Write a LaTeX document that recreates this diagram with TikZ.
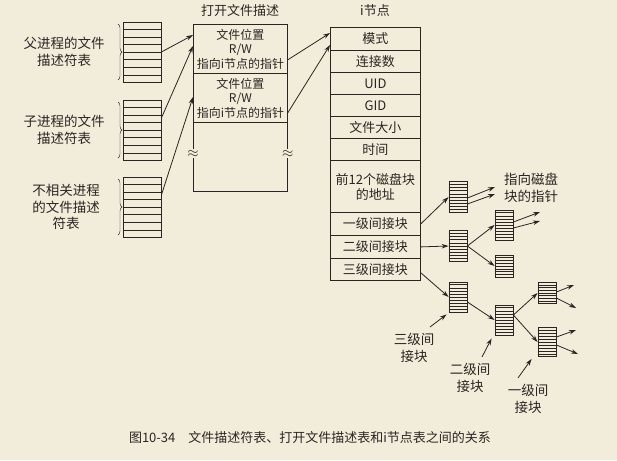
\documentclass[tikz,border=0pt]{standalone}
\usepackage{fontspec}
\setmainfont{Noto Sans CJK SC}
\usetikzlibrary{arrows.meta,calc,decorations.pathreplacing}
\definecolor{bg}{HTML}{F2EDDA}
\definecolor{ink}{HTML}{2A2522}
\newcommand{\stk}[6]{% name, cx, cy, w, h, n
  \node[draw=ink,line width=0.8pt,inner sep=0,minimum width=#4pt,minimum height=#5pt] (#1) at (#2,#3) {};
  \foreach \i in {1,...,#6}{\pgfmathsetmacro\fr{\i/(#6+1)}
    \draw[ink,line width=0.5pt] ($(#1.north west)!\fr!(#1.south west)$) -- ($(#1.north east)!\fr!(#1.south east)$);}}
\begin{document}
\begin{tikzpicture}[x=1pt,y=-1pt,
  every node/.style={text=ink,font=\fontsize{13}{15}\selectfont},
  cell/.style={draw=ink,line width=0.8pt,inner sep=0,minimum width=90pt,align=center},
  arr/.style={-{Stealth[length=7pt,width=4.5pt]},ink,line width=0.8pt},
  brc/.style={ink,decorate,decoration={brace,amplitude=4pt}},
  lbl/.style={align=center,font=\fontsize{13.5}{16.5}\selectfont}]
\fill[bg] (0,0) rectangle (617,460);
\useasboundingbox (0,0) rectangle (617,460);
% left tables
\stk{t1}{142}{52}{38}{60}{7}
\stk{t2}{142}{130}{38}{60}{7}
\stk{t3}{142}{207}{38}{60}{7}
\draw[brc] (118,24) -- (118,80);
\draw[brc] (118,102) -- (118,158);
\draw[brc] (118,179) -- (118,235);
\node[lbl] (l1) at (64,52) {父进程的文件\\描述符表};
\node[lbl] (l2) at (64,130) {子进程的文件\\描述符表};
\node[lbl] (l3) at (66,207) {不相关进程\\的文件描述\\符表};
% open file description
\node (ft) at (240,11) {打开文件描述};
\node[cell,minimum width=94pt,minimum height=49pt,anchor=north west,font=\fontsize{12}{14.5}\selectfont] (fd1) at (193,24) {文件位置\\R/W\\指向i节点的指针};
\node[cell,minimum width=94pt,minimum height=49pt,anchor=north west,font=\fontsize{12}{14.5}\selectfont] (fd2) at (193,73) {文件位置\\R/W\\指向i节点的指针};
\node[cell,minimum width=94pt,minimum height=69pt,anchor=north west] (fd3) at (193,122) {};
\node[fill=bg,inner sep=1pt,font=\Large] (w1) at ($(fd3.west)+(0,-3)$) {$\approx$};
\node[fill=bg,inner sep=1pt,font=\Large] (w2) at ($(fd3.east)+(0,-3)$) {$\approx$};
% inode
\node (it) at (375,11) {i节点};
\foreach \n/\t/\a/\h in {m/模式/27/23, c/连接数/50/22, u/UID/72/22, g/GID/94/22, s/文件大小/116/22, ti/时间/138/22}
  \node[cell,minimum height=\h pt,anchor=north west] (\n) at (330,\a) {\t};
\node[cell,minimum height=52pt,anchor=north west] (f12) at (330,160) {前12个磁盘块\\的地址};
\node[cell,minimum height=23pt,anchor=north west] (i1) at (330,212) {一级间接块};
\node[cell,minimum height=23pt,anchor=north west] (i2) at (330,235) {二级间接块};
\node[cell,minimum height=22pt,anchor=north west] (i3) at (330,258) {三级间接块};
% arrows left
\draw[arr] (t1.east) -- ($(fd1.north west)+(0,11)$);
\draw[arr] ($(t2.east)+(0,-12)$) -- ($(fd1.north west)+(0,22)$);
\draw[arr] ($(t3.east)+(0,-12)$) -- ($(fd2.north west)+(0,24)$);
\draw[arr] ($(fd1.south east)+(0,-14)$) -- ($(m.north west)+(0,6)$);
\draw[arr] ($(fd2.south east)+(0,-10)$) -- ($(m.north west)+(0,18)$);
% blocks
\stk{b1}{458}{197}{18}{31}{9}
\stk{b2}{458}{246}{18}{31}{9}
\stk{b2a}{504}{225}{18}{30}{9}
\stk{b2b}{504}{266}{18}{22}{7}
\stk{b3}{458}{297}{18}{30}{9}
\stk{b3a}{504}{320}{18}{30}{9}
\stk{b3b}{547}{293}{18}{21}{7}
\stk{b3c}{547}{342}{18}{29}{9}
\draw[arr] (i1.east) -- (b1.west);
\draw[arr] (i2.east) -- (b2.west);
\draw[arr] ($(i3.south east)+(0,-8)$) -- (b3.west);
\coordinate (p1) at (495,187); \coordinate (p2) at (495,194);
\draw[arr] ($(b1.east)+(0,1)$) -- (p1);
\draw[arr] ($(b1.east)+(0,7)$) -- (p2);
\node[lbl] (ptr) at (531,188) {指向磁盘\\块的指针};
\draw[arr] (b2.east) -- (b2a.west);
\draw[arr] (b2.east) -- (b2b.west);
\coordinate (p3) at (540,212); \coordinate (p4) at (540,221);
\draw[arr] ($(b2a.east)+(0,-3)$) -- (p3);
\draw[arr] ($(b2a.east)+(0,3)$) -- (p4);
\draw[arr] ($(b3.east)+(0,5)$) -- (b3a.west);
\draw[arr] ($(b3a.east)+(0,-5)$) -- (b3b.west);
\draw[arr] ($(b3a.east)+(0,-5)$) -- (b3c.west);
\coordinate (p5) at (574,285); \coordinate (p6) at (576,308);
\coordinate (p7) at (576,330); \coordinate (p8) at (578,354);
\draw[arr] ($(b3b.east)+(0,-1)$) -- (p5);
\draw[arr] ($(b3b.east)+(0,5)$) -- (p6);
\draw[arr] ($(b3c.east)+(0,-5)$) -- (p7);
\draw[arr] ($(b3c.east)+(0,3)$) -- (p8);
% labels below
\node[lbl] (n3) at (414,348) {三级间\\接块};
\node[lbl] (n2) at (470,378) {二级间\\接块};
\node[lbl] (n1) at (528,399) {一级间\\接块};
\draw[arr] ($(n3.north)+(16,-3)$) -- ($(b3.south west)+(-2,2)$);
\draw[arr] ($(n2.north)+(12,-3)$) -- ($(b3a.south west)+(-3,3)$);
\draw[arr] ($(n1.north)+(-10,-3)$) -- ($(b3c.south west)+(-6,2)$);
% caption
\node[font=\fontsize{13}{15}\selectfont] (cap) at (310,438) {图10-34\quad 文件描述符表、打开文件描述表和i节点表之间的关系};
\end{tikzpicture}
\end{document}
